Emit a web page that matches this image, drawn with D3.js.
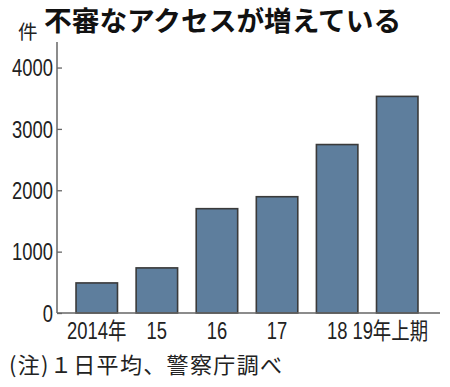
<!DOCTYPE html>
<html><head><meta charset="utf-8">
<script src="https://cdn.jsdelivr.net/npm/d3@7"></script>
<style>
html,body{margin:0;padding:0;background:#fff;}
svg{display:block;}
</style></head>
<body>
<script>
const categories = ["2014年","15","16","17","18","19年上期"];
const values = [490, 735, 1700, 1895, 2745, 3530];
const yTicks = [0, 1000, 2000, 3000, 4000];
const title = "不審なアクセスが増えている";
const unitLabel = "件";
const note = "(注)１日平均、警察庁調べ";

const W = 450, H = 387;
const svg = d3.select("body").append("svg").attr("width", W).attr("height", H);

const x0 = 57, xEnd = 440, yBase = 313;
const y = d3.scaleLinear().domain([0, 4400]).range([yBase, 43]);
const x = d3.scaleBand().domain(categories).range([58, 436]).paddingInner(0.31).paddingOuter(0.3);

const numFont = "'Liberation Sans','Noto Sans CJK JP',sans-serif";
const cjk = "'Noto Sans CJK JP','Noto Sans',sans-serif";

function condense(sel, k) {
  sel.each(function() {
    const len = this.getComputedTextLength();
    d3.select(this).attr("textLength", len * k).attr("lengthAdjust", "spacingAndGlyphs");
  });
}

// title
svg.append("text").attr("x", 44).attr("y", 31)
  .attr("font-family", cjk).attr("font-weight", "bold").attr("font-size", 27.7)
  .attr("fill", "#111").text(title);
svg.append("text").attr("x", 18).attr("y", 39)
  .attr("font-family", cjk).attr("font-size", 19.5).attr("fill", "#222").text(unitLabel);

// bars
svg.selectAll("rect.bar").data(values).join("rect")
  .attr("class", "bar")
  .attr("x", (d, i) => x(categories[i]))
  .attr("width", x.bandwidth())
  .attr("y", d => y(d))
  .attr("height", d => yBase - y(d))
  .attr("fill", "#5e7e9d")
  .attr("stroke", "#3a3a3a").attr("stroke-width", 1.6);

// y axis
const yAxis = d3.axisLeft(y).tickValues(yTicks).tickSize(-5).tickPadding(4).tickFormat(d3.format("d"));
const gy = svg.append("g").attr("transform", `translate(${x0},0)`).call(yAxis);
gy.select(".domain").remove();
gy.selectAll(".tick line").attr("stroke", "#666").attr("stroke-width", 1.3);
gy.selectAll(".tick text").attr("font-family", numFont).attr("font-size", 23).attr("fill", "#222").attr("dy", "0.36em")
  .call(condense, 0.8);
svg.append("line").attr("x1", x0).attr("x2", x0).attr("y1", 42).attr("y2", yBase)
  .attr("stroke", "#666").attr("stroke-width", 1.5);

// x axis
const xAxis = d3.axisBottom(x).tickSize(0).tickPadding(9);
const gx = svg.append("g").attr("transform", `translate(0,${yBase})`).call(xAxis);
gx.select(".domain").remove();
gx.selectAll(".tick text").attr("font-family", numFont).attr("font-size", 23).attr("fill", "#222").attr("dy", "0.74em")
  .attr("dx", (d, i) => i === categories.length - 1 ? -7 : 0)
  .call(condense, 0.8);
svg.append("line").attr("x1", x0).attr("x2", xEnd).attr("y1", yBase).attr("y2", yBase)
  .attr("stroke", "#666").attr("stroke-width", 1.5);

// note
svg.append("text").attr("x", 9).attr("y", 373)
  .attr("font-family", cjk).attr("font-size", 22).attr("fill", "#222")
  .attr("textLength", 273).attr("lengthAdjust", "spacing").text(note);
</script>
</body></html>
